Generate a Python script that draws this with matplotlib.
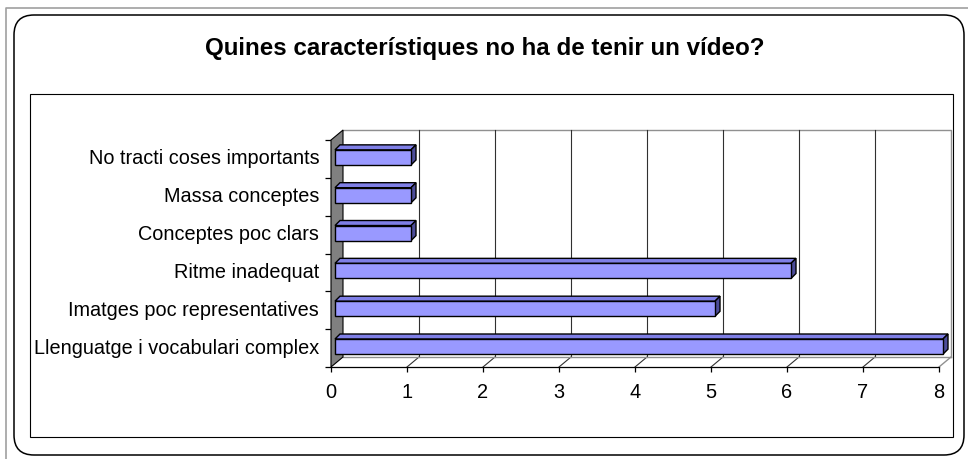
import numpy as np
import matplotlib
matplotlib.use("Agg")
import matplotlib.pyplot as plt
from matplotlib.patches import Polygon, Rectangle, FancyBboxPatch

plt.rcParams['font.family'] = ['Liberation Sans', 'DejaVu Sans']

# data (bottom to top as drawn)
categories = ["Llenguatge i vocabulari complex", "Imatges poc representatives",
              "Ritme inadequat", "Conceptes poc clars", "Massa conceptes",
              "No tracti coses importants"]
values = [8, 5, 6, 1, 1, 1]
x_ticks = [0, 1, 2, 3, 4, 5, 6, 7, 8]
title = "Quines característiques no ha de tenir un vídeo?"

W, H = 968, 460
fig = plt.figure(figsize=(W / 100, H / 100), dpi=100)

# background frame layer in pixel units (y up)
bg = fig.add_axes([0, 0, 1, 1])
bg.set_xlim(0, W)
bg.set_ylim(0, H)
bg.axis('off')
bg.plot([6, 6, W + 5], [-5, H - 9, H - 9], color='#a0a0a0', lw=1.2)
bg.add_patch(FancyBboxPatch((14, H - 456), 950, 440,
                            boxstyle="round,pad=0,rounding_size=20",
                            fc='white', ec='black', lw=1.1))
bg.add_patch(Rectangle((30, H - 438), 923, 343, fc='white', ec='black', lw=0.8))
fig.text(485 / W, 1 - 49 / H, title, ha='center', va='center',
         fontsize=17.4, fontweight='bold')

# main plot, front plane: value 0 at x=331px, 8 at 939px ; category base at y=368px
PX, PY = 76.0, 37.83
left_px, right_px, bot_px, top_px = 331, 960, 368, 125
ax = fig.add_axes([left_px / W, (H - bot_px) / H,
                   (right_px - left_px) / W, (bot_px - top_px) / H])
ax.set_xlim(0, (right_px - left_px) / PX)
ax.set_ylim(0, (bot_px - top_px) / PY)
ax.patch.set_visible(False)
for s in ['top', 'right', 'left']:
    ax.spines[s].set_visible(False)
ax.spines['bottom'].set_bounds(0, max(x_ticks))
ax.spines['bottom'].set_linewidth(0.9)

n = len(categories)
xmax = max(x_ticks)
dx, dy = 12 / PX, 10 / PY      # wall depth
fx, fy = 4 / PX, 0.0           # bar front offset
bx, by = 5 / PX, 5 / PY        # bar depth

# left wall
ax.add_patch(Polygon([(0, 0), (0, n), (dx, n + dy), (dx, dy)], closed=True,
                     fc='#808080', ec='black', lw=0.8, clip_on=False, zorder=2))
# back wall borders and gridlines
ax.plot([dx, xmax + dx, xmax + dx], [n + dy, n + dy, dy], color='#909090', lw=1, clip_on=False, zorder=1)
for k in x_ticks[1:-1]:
    ax.plot([k + dx, k + dx], [dy, n + dy], color='#303030', lw=0.8, clip_on=False, zorder=1)
    ax.plot([k, k + dx], [0, dy], color='#303030', lw=0.8, clip_on=False, zorder=1)
# floor
ax.plot([dx, xmax + dx], [dy, dy], color='#909090', lw=1, clip_on=False, zorder=1)
ax.plot([xmax, xmax + dx], [0, dy], color='#909090', lw=1, clip_on=False, zorder=1)

# bars
for i, v in enumerate(values):
    x0, x1 = fx, fx + v
    y0, y1 = i + 0.34, i + 0.74
    ax.add_patch(Polygon([(x0, y1), (x1, y1), (x1 + bx, y1 + by), (x0 + bx, y1 + by)],
                         closed=True, fc='#7f7fe6', ec='black', lw=1, clip_on=False, zorder=3))
    ax.add_patch(Polygon([(x1, y0), (x1 + bx, y0 + by), (x1 + bx, y1 + by), (x1, y1)],
                         closed=True, fc='#4c4c99', ec='black', lw=1, clip_on=False, zorder=3))
    ax.add_patch(Rectangle((x0, y0), v, y1 - y0, fc='#9999ff', ec='black', lw=1,
                           clip_on=False, zorder=4))

ax.set_xticks(x_ticks)
ax.set_xticklabels([str(t) for t in x_ticks], fontsize=14.4)
ax.tick_params(axis='x', direction='out', length=3.6, width=0.9, pad=7.5)
ax.set_yticks(np.arange(n + 1))
ax.set_yticklabels([])
ax.tick_params(axis='y', which='major', direction='out', length=4.3, width=0.9)
ax.set_yticks(np.arange(n) + 0.58, minor=True)
ax.set_yticklabels(categories, minor=True, fontsize=14.3)
ax.tick_params(axis='y', which='minor', length=0, pad=8.5)

fig.savefig("out.png", dpi=100)
